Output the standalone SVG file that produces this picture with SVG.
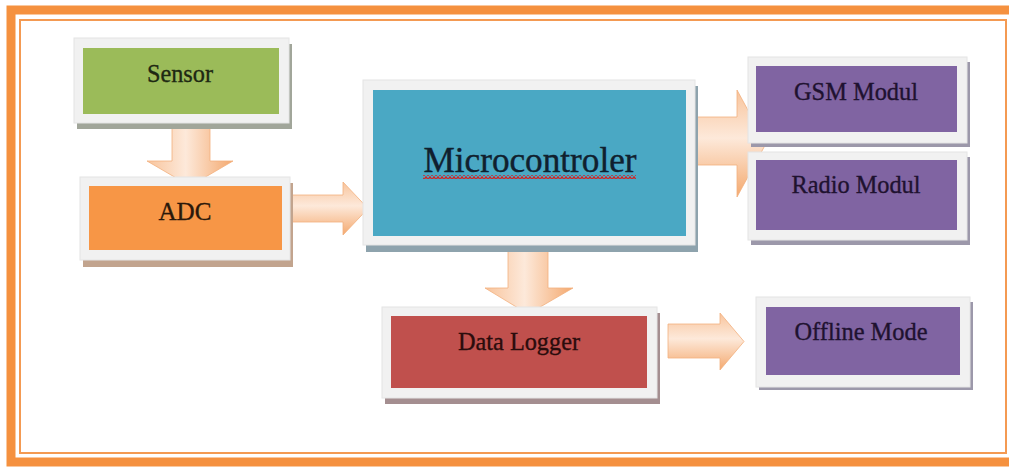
<svg xmlns="http://www.w3.org/2000/svg" width="1009" height="467" viewBox="0 0 1009 467">
<defs>
<linearGradient id="gh" x1="0" y1="0" x2="0" y2="1">
<stop offset="0" stop-color="#f8c49c"/>
<stop offset="0.45" stop-color="#fde9da"/>
<stop offset="1" stop-color="#f4a96f"/>
</linearGradient>
<linearGradient id="gv" x1="0" y1="0" x2="1" y2="0">
<stop offset="0" stop-color="#f8c49c"/>
<stop offset="0.45" stop-color="#fde9da"/>
<stop offset="1" stop-color="#f4a96f"/>
</linearGradient>
<pattern id="sq" width="4" height="4" patternUnits="userSpaceOnUse">
<path d="M0,3.5 L2,0.8 L4,3.5" stroke="#d42020" fill="none" stroke-width="1.3"/>
</pattern>
</defs>
<style>
.frame{fill:#f1f1f1;stroke:#e4e4e4;stroke-width:1}
.lbl{font-family:"Liberation Serif","Times New Roman",serif;font-size:26px;text-anchor:middle;stroke-width:0.35}
.arr{stroke:#f2b07e;stroke-width:0.8}
</style>
<rect width="1009" height="467" fill="#ffffff"/>
<g id="border">
<rect x="11" y="10" width="1010" height="452" fill="none" stroke="#f5913f" stroke-width="9"/>
<rect x="20" y="20" width="986" height="433" fill="none" stroke="#f49a52" stroke-width="2"/>
</g>
<g id="connectors">
<polygon class="arr" fill="url(#gv)" points="172,123 210,123 210,161 233,161 190,186 147,161 172,161"/>
<polygon class="arr" fill="url(#gh)" points="290,195 343,195 343,182 368,208.5 343,235 343,222 290,222"/>
<polygon class="arr" fill="url(#gh)" points="686,117 737,117 737,90 766,143.5 737,197 737,165 686,165"/>
<polygon class="arr" fill="url(#gv)" points="508,250 548,250 548,288 573,288 528,314 485,288 508,288"/>
<polygon class="arr" fill="url(#gh)" points="668,324 720,324 720,313 744,341.5 720,370 720,358 668,358"/>
</g>
<g id="sensor">
<rect x="77" y="44" width="215" height="85" fill="#a1a69a"/>
<rect class="frame" x="74" y="38" width="215" height="85"/>
<rect x="83" y="48" width="196" height="66" fill="#9bbb59"/>
<text class="lbl" x="180" y="82" fill="#1e2812" stroke="#1e2812" textLength="66" lengthAdjust="spacingAndGlyphs">Sensor</text>
</g>
<g id="adc">
<rect x="83" y="183" width="210" height="84" fill="#c2a48e"/>
<rect class="frame" x="80" y="177" width="210" height="83"/>
<rect x="89" y="186" width="193" height="64" fill="#f79646"/>
<text class="lbl" x="185" y="220" fill="#2a180a" stroke="#2a180a" textLength="53" lengthAdjust="spacingAndGlyphs">ADC</text>
</g>
<g id="microcontroller">
<rect x="366" y="86" width="332" height="166" fill="#8ea3ad"/>
<rect class="frame" x="363" y="80" width="332" height="165"/>
<rect x="373" y="90" width="313" height="146" fill="#4aa8c4"/>
<text x="530" y="172" font-family="&quot;Liberation Serif&quot;,&quot;Times New Roman&quot;,serif" font-size="36" text-anchor="middle" fill="#10202e" stroke="#10202e" stroke-width="0.4" textLength="213" lengthAdjust="spacingAndGlyphs">Microcontroler</text>
<rect x="423" y="175" width="213" height="4" fill="url(#sq)"/>
</g>
<g id="gsm">
<rect x="751" y="62" width="219" height="85" fill="#9c98aa"/>
<rect class="frame" x="748" y="57" width="219" height="86"/>
<rect x="756" y="66" width="201" height="66" fill="#8064a2"/>
<text class="lbl" x="856" y="100" fill="#1f1230" stroke="#1f1230" textLength="124" lengthAdjust="spacingAndGlyphs">GSM Modul</text>
</g>
<g id="radio">
<rect x="751" y="157" width="219" height="88" fill="#9c98aa"/>
<rect class="frame" x="748" y="152" width="219" height="88"/>
<rect x="756" y="160" width="201" height="70" fill="#8064a2"/>
<text class="lbl" x="856" y="193" fill="#1f1230" stroke="#1f1230" textLength="129" lengthAdjust="spacingAndGlyphs">Radio Modul</text>
</g>
<g id="datalogger">
<rect x="385" y="313" width="275" height="91" fill="#a48e90"/>
<rect class="frame" x="382" y="307" width="275" height="91"/>
<rect x="391" y="316" width="256" height="72" fill="#c0504d"/>
<text class="lbl" x="519" y="350" fill="#2a0c0c" stroke="#2a0c0c" textLength="122" lengthAdjust="spacingAndGlyphs">Data Logger</text>
</g>
<g id="offline">
<rect x="759" y="302" width="214" height="88" fill="#9c98aa"/>
<rect class="frame" x="756" y="297" width="214" height="90"/>
<rect x="766" y="307" width="194" height="68" fill="#8064a2"/>
<text class="lbl" x="861" y="340" fill="#1f1230" stroke="#1f1230" textLength="133" lengthAdjust="spacingAndGlyphs">Offline Mode</text>
</g>
</svg>
